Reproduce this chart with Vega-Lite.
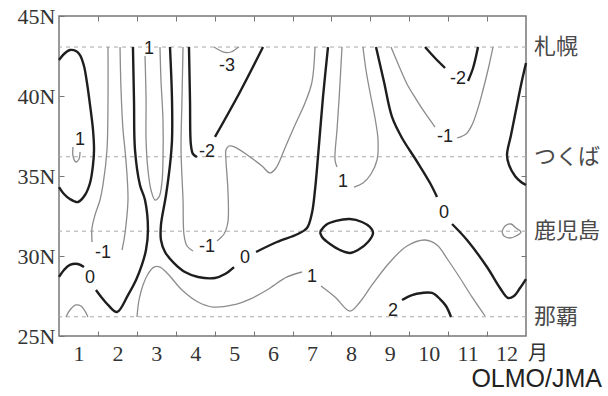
{
  "$schema": "https://vega.github.io/schema/vega-lite/v6.json",
  "width": 467,
  "height": 320,
  "autosize": {"type": "none"},
  "padding": {"left": 59, "top": 16, "right": 82, "bottom": 60},
  "background": "white",
  "config": {
    "view": {"stroke": "#777", "strokeWidth": 1.5},
    "axis": {"grid": false, "domain": false, "tickColor": "#777", "tickWidth": 1, "labelColor": "#333", "labelFont": "Liberation Serif", "labelFontSize": 22, "title": null}
  },
  "datasets": {
    "stations": [
      {"name": "札幌", "lat": 43.06},
      {"name": "つくば", "lat": 36.2},
      {"name": "鹿児島", "lat": 31.55},
      {"name": "那覇", "lat": 26.2}
    ],
    "labels": [
      {"label": "1", "month": 1.04, "lat": 37.25},
      {"label": "-1", "month": 1.63, "lat": 30.19},
      {"label": "0", "month": 1.297, "lat": 28.625},
      {"label": "1", "month": 2.81, "lat": 42.94},
      {"label": "0", "month": 5.28, "lat": 29.875},
      {"label": "-1", "month": 4.3, "lat": 30.56},
      {"label": "-2", "month": 4.3, "lat": 36.5},
      {"label": "-3", "month": 4.817, "lat": 41.875},
      {"label": "1", "month": 7.797, "lat": 34.625},
      {"label": "0", "month": 10.39, "lat": 32.69},
      {"label": "-1", "month": 10.42, "lat": 37.44},
      {"label": "-2", "month": 10.753, "lat": 41.06},
      {"label": "1", "month": 7.0, "lat": 28.69},
      {"label": "2", "month": 9.083, "lat": 26.56}
    ],
    "contours": [
      {"seg": "a", "level": 0, "i": 0, "month": 0.5, "lat": 42.25},
      {"seg": "a", "level": 0, "i": 1, "month": 0.628, "lat": 42.625},
      {"seg": "a", "level": 0, "i": 2, "month": 0.78, "lat": 42.875},
      {"seg": "a", "level": 0, "i": 3, "month": 0.937, "lat": 42.81},
      {"seg": "a", "level": 0, "i": 4, "month": 1.04, "lat": 42.56},
      {"seg": "a", "level": 0, "i": 5, "month": 1.142, "lat": 41.875},
      {"seg": "a", "level": 0, "i": 6, "month": 1.22, "lat": 40.81},
      {"seg": "a", "level": 0, "i": 7, "month": 1.297, "lat": 39.44},
      {"seg": "a", "level": 0, "i": 8, "month": 1.374, "lat": 37.875},
      {"seg": "a", "level": 0, "i": 9, "month": 1.4, "lat": 36.625},
      {"seg": "a", "level": 0, "i": 10, "month": 1.374, "lat": 35.69},
      {"seg": "a", "level": 0, "i": 11, "month": 1.297, "lat": 34.56},
      {"seg": "a", "level": 0, "i": 12, "month": 1.168, "lat": 33.81},
      {"seg": "a", "level": 0, "i": 13, "month": 0.988, "lat": 33.375},
      {"seg": "a", "level": 0, "i": 14, "month": 0.78, "lat": 33.56},
      {"seg": "a", "level": 0, "i": 15, "month": 0.628, "lat": 33.875},
      {"seg": "a", "level": 0, "i": 16, "month": 0.5, "lat": 34.31},

      {"seg": "b", "level": 1, "i": 0, "month": 0.86, "lat": 36.81},
      {"seg": "b", "level": 1, "i": 1, "month": 0.86, "lat": 36.25},
      {"seg": "b", "level": 1, "i": 2, "month": 0.937, "lat": 35.875},
      {"seg": "b", "level": 1, "i": 3, "month": 1.014, "lat": 36.06},
      {"seg": "b", "level": 1, "i": 4, "month": 1.04, "lat": 36.5},

      {"seg": "c1", "level": -1, "i": 0, "month": 1.759, "lat": 43.06},
      {"seg": "c1", "level": -1, "i": 1, "month": 1.759, "lat": 39.75},
      {"seg": "c1", "level": -1, "i": 2, "month": 1.733, "lat": 36.625},
      {"seg": "c1", "level": -1, "i": 3, "month": 1.63, "lat": 34.44},
      {"seg": "c1", "level": -1, "i": 4, "month": 1.554, "lat": 33.5},
      {"seg": "c1", "level": -1, "i": 5, "month": 1.425, "lat": 32.56},
      {"seg": "c1", "level": -1, "i": 6, "month": 1.348, "lat": 31.75},
      {"seg": "c1", "level": -1, "i": 7, "month": 1.348, "lat": 30.875},

      {"seg": "c2", "level": -1, "i": 0, "month": 2.068, "lat": 43.06},
      {"seg": "c2", "level": -1, "i": 1, "month": 2.094, "lat": 40.375},
      {"seg": "c2", "level": -1, "i": 2, "month": 2.145, "lat": 37.875},
      {"seg": "c2", "level": -1, "i": 3, "month": 2.196, "lat": 36.625},
      {"seg": "c2", "level": -1, "i": 4, "month": 2.248, "lat": 35.06},
      {"seg": "c2", "level": -1, "i": 5, "month": 2.273, "lat": 33.5},
      {"seg": "c2", "level": -1, "i": 6, "month": 2.222, "lat": 31.94},
      {"seg": "c2", "level": -1, "i": 7, "month": 2.17, "lat": 31.0},
      {"seg": "c2", "level": -1, "i": 8, "month": 2.12, "lat": 30.375},

      {"seg": "d1", "level": 0, "i": 0, "month": 2.4, "lat": 43.06},
      {"seg": "d1", "level": 0, "i": 1, "month": 2.427, "lat": 39.75},
      {"seg": "d1", "level": 0, "i": 2, "month": 2.453, "lat": 36.625},
      {"seg": "d1", "level": 0, "i": 3, "month": 2.58, "lat": 34.44},
      {"seg": "d1", "level": 0, "i": 4, "month": 2.71, "lat": 33.5},
      {"seg": "d1", "level": 0, "i": 5, "month": 2.786, "lat": 31.625},
      {"seg": "d1", "level": 0, "i": 6, "month": 2.735, "lat": 30.375},
      {"seg": "d1", "level": 0, "i": 7, "month": 2.63, "lat": 29.44},
      {"seg": "d1", "level": 0, "i": 8, "month": 2.48, "lat": 28.5},
      {"seg": "d1", "level": 0, "i": 9, "month": 2.273, "lat": 27.56},
      {"seg": "d1", "level": 0, "i": 10, "month": 1.99, "lat": 26.5},
      {"seg": "d1", "level": 0, "i": 11, "month": 1.759, "lat": 26.94},
      {"seg": "d1", "level": 0, "i": 12, "month": 1.605, "lat": 27.375},
      {"seg": "d1", "level": 0, "i": 13, "month": 1.45, "lat": 27.875},

      {"seg": "d2", "level": 0, "i": 0, "month": 1.142, "lat": 29.31},
      {"seg": "d2", "level": 0, "i": 1, "month": 0.988, "lat": 29.5},
      {"seg": "d2", "level": 0, "i": 2, "month": 0.78, "lat": 29.44},
      {"seg": "d2", "level": 0, "i": 3, "month": 0.628, "lat": 29.125},
      {"seg": "d2", "level": 0, "i": 4, "month": 0.5, "lat": 28.69},

      {"seg": "e", "level": 1, "i": 0, "month": 2.71, "lat": 42.5},
      {"seg": "e", "level": 1, "i": 1, "month": 2.737, "lat": 39.75},
      {"seg": "e", "level": 1, "i": 2, "month": 2.737, "lat": 37.25},
      {"seg": "e", "level": 1, "i": 3, "month": 2.786, "lat": 35.375},
      {"seg": "e", "level": 1, "i": 4, "month": 2.864, "lat": 34.125},
      {"seg": "e", "level": 1, "i": 5, "month": 2.967, "lat": 33.5},
      {"seg": "e", "level": 1, "i": 6, "month": 3.07, "lat": 33.69},
      {"seg": "e", "level": 1, "i": 7, "month": 3.146, "lat": 34.625},
      {"seg": "e", "level": 1, "i": 8, "month": 3.172, "lat": 36.0},
      {"seg": "e", "level": 1, "i": 9, "month": 3.172, "lat": 38.5},
      {"seg": "e", "level": 1, "i": 10, "month": 3.12, "lat": 41.0},
      {"seg": "e", "level": 1, "i": 11, "month": 3.095, "lat": 43.06},

      {"seg": "f1", "level": 0, "i": 0, "month": 3.352, "lat": 43.06},
      {"seg": "f1", "level": 0, "i": 1, "month": 3.404, "lat": 39.75},
      {"seg": "f1", "level": 0, "i": 2, "month": 3.404, "lat": 37.25},
      {"seg": "f1", "level": 0, "i": 3, "month": 3.352, "lat": 35.69},
      {"seg": "f1", "level": 0, "i": 4, "month": 3.25, "lat": 33.81},
      {"seg": "f1", "level": 0, "i": 5, "month": 3.12, "lat": 31.94},
      {"seg": "f1", "level": 0, "i": 6, "month": 3.12, "lat": 31.0},
      {"seg": "f1", "level": 0, "i": 7, "month": 3.224, "lat": 30.25},
      {"seg": "f1", "level": 0, "i": 8, "month": 3.455, "lat": 29.56},
      {"seg": "f1", "level": 0, "i": 9, "month": 3.737, "lat": 29.0},
      {"seg": "f1", "level": 0, "i": 10, "month": 4.073, "lat": 28.69},
      {"seg": "f1", "level": 0, "i": 11, "month": 4.508, "lat": 28.625},
      {"seg": "f1", "level": 0, "i": 12, "month": 4.765, "lat": 28.875},
      {"seg": "f1", "level": 0, "i": 13, "month": 4.997, "lat": 29.31},

      {"seg": "f2", "level": 0, "i": 0, "month": 5.563, "lat": 30.25},
      {"seg": "f2", "level": 0, "i": 1, "month": 6.1, "lat": 30.875},
      {"seg": "f2", "level": 0, "i": 2, "month": 6.64, "lat": 31.375},
      {"seg": "f2", "level": 0, "i": 3, "month": 6.873, "lat": 31.75},
      {"seg": "f2", "level": 0, "i": 4, "month": 7.0, "lat": 32.69},
      {"seg": "f2", "level": 0, "i": 5, "month": 7.078, "lat": 34.125},
      {"seg": "f2", "level": 0, "i": 6, "month": 7.155, "lat": 36.19},
      {"seg": "f2", "level": 0, "i": 7, "month": 7.284, "lat": 39.94},
      {"seg": "f2", "level": 0, "i": 8, "month": 7.412, "lat": 43.06},

      {"seg": "g1", "level": -1, "i": 0, "month": 3.687, "lat": 43.06},
      {"seg": "g1", "level": -1, "i": 1, "month": 3.66, "lat": 39.75},
      {"seg": "g1", "level": -1, "i": 2, "month": 3.636, "lat": 36.625},
      {"seg": "g1", "level": -1, "i": 3, "month": 3.687, "lat": 33.5},
      {"seg": "g1", "level": -1, "i": 4, "month": 3.713, "lat": 31.31},
      {"seg": "g1", "level": -1, "i": 5, "month": 3.79, "lat": 30.625},
      {"seg": "g1", "level": -1, "i": 6, "month": 3.944, "lat": 30.31},

      {"seg": "g2", "level": -1, "i": 0, "month": 4.56, "lat": 30.94},
      {"seg": "g2", "level": -1, "i": 1, "month": 4.74, "lat": 31.375},
      {"seg": "g2", "level": -1, "i": 2, "month": 4.84, "lat": 32.125},
      {"seg": "g2", "level": -1, "i": 3, "month": 4.84, "lat": 34.125},
      {"seg": "g2", "level": -1, "i": 4, "month": 4.79, "lat": 36.0},
      {"seg": "g2", "level": -1, "i": 5, "month": 4.79, "lat": 36.625},
      {"seg": "g2", "level": -1, "i": 6, "month": 4.868, "lat": 36.875},
      {"seg": "g2", "level": -1, "i": 7, "month": 5.02, "lat": 36.81},
      {"seg": "g2", "level": -1, "i": 8, "month": 5.408, "lat": 36.19},
      {"seg": "g2", "level": -1, "i": 9, "month": 5.717, "lat": 35.625},
      {"seg": "g2", "level": -1, "i": 10, "month": 5.92, "lat": 35.19},
      {"seg": "g2", "level": -1, "i": 11, "month": 6.076, "lat": 35.5},
      {"seg": "g2", "level": -1, "i": 12, "month": 6.307, "lat": 36.75},
      {"seg": "g2", "level": -1, "i": 13, "month": 6.564, "lat": 38.19},
      {"seg": "g2", "level": -1, "i": 14, "month": 6.821, "lat": 39.56},
      {"seg": "g2", "level": -1, "i": 15, "month": 7.0, "lat": 40.875},
      {"seg": "g2", "level": -1, "i": 16, "month": 7.078, "lat": 43.06},

      {"seg": "h1", "level": -2, "i": 0, "month": 3.84, "lat": 43.06},
      {"seg": "h1", "level": -2, "i": 1, "month": 3.866, "lat": 39.75},
      {"seg": "h1", "level": -2, "i": 2, "month": 3.89, "lat": 36.94},
      {"seg": "h1", "level": -2, "i": 3, "month": 3.944, "lat": 36.375},
      {"seg": "h1", "level": -2, "i": 4, "month": 4.046, "lat": 36.19},

      {"seg": "h2", "level": -2, "i": 0, "month": 4.508, "lat": 37.44},
      {"seg": "h2", "level": -2, "i": 1, "month": 5.15, "lat": 40.25},
      {"seg": "h2", "level": -2, "i": 2, "month": 5.742, "lat": 43.06},

      {"seg": "i", "level": -3, "i": 0, "month": 4.483, "lat": 43.06},
      {"seg": "i", "level": -3, "i": 1, "month": 4.612, "lat": 42.875},
      {"seg": "i", "level": -3, "i": 2, "month": 4.765, "lat": 42.72},
      {"seg": "i", "level": -3, "i": 3, "month": 4.92, "lat": 42.75},
      {"seg": "i", "level": -3, "i": 4, "month": 5.048, "lat": 42.94},
      {"seg": "i", "level": -3, "i": 5, "month": 5.125, "lat": 43.06},

      {"seg": "j1", "level": 1, "i": 0, "month": 7.772, "lat": 43.06},
      {"seg": "j1", "level": 1, "i": 1, "month": 7.695, "lat": 39.75},
      {"seg": "j1", "level": 1, "i": 2, "month": 7.643, "lat": 37.875},
      {"seg": "j1", "level": 1, "i": 3, "month": 7.592, "lat": 36.0},
      {"seg": "j1", "level": 1, "i": 4, "month": 7.643, "lat": 35.56},

      {"seg": "j2", "level": 1, "i": 0, "month": 8.08, "lat": 34.31},
      {"seg": "j2", "level": 1, "i": 1, "month": 8.311, "lat": 34.56},
      {"seg": "j2", "level": 1, "i": 2, "month": 8.517, "lat": 35.125},
      {"seg": "j2", "level": 1, "i": 3, "month": 8.672, "lat": 36.0},
      {"seg": "j2", "level": 1, "i": 4, "month": 8.698, "lat": 37.25},
      {"seg": "j2", "level": 1, "i": 5, "month": 8.62, "lat": 38.625},
      {"seg": "j2", "level": 1, "i": 6, "month": 8.49, "lat": 40.25},
      {"seg": "j2", "level": 1, "i": 7, "month": 8.388, "lat": 41.625},
      {"seg": "j2", "level": 1, "i": 8, "month": 8.311, "lat": 43.06},

      {"seg": "k1", "level": 0, "i": 0, "month": 8.646, "lat": 43.06},
      {"seg": "k1", "level": 0, "i": 1, "month": 8.852, "lat": 40.875},
      {"seg": "k1", "level": 0, "i": 2, "month": 9.057, "lat": 38.69},
      {"seg": "k1", "level": 0, "i": 3, "month": 9.314, "lat": 37.375},
      {"seg": "k1", "level": 0, "i": 4, "month": 9.674, "lat": 36.0},
      {"seg": "k1", "level": 0, "i": 5, "month": 10.034, "lat": 34.56},
      {"seg": "k1", "level": 0, "i": 6, "month": 10.213, "lat": 33.69},

      {"seg": "k2", "level": 0, "i": 0, "month": 10.6, "lat": 32.0},
      {"seg": "k2", "level": 0, "i": 1, "month": 10.984, "lat": 31.0},
      {"seg": "k2", "level": 0, "i": 2, "month": 11.498, "lat": 29.31},
      {"seg": "k2", "level": 0, "i": 3, "month": 11.832, "lat": 28.0},
      {"seg": "k2", "level": 0, "i": 4, "month": 12.038, "lat": 27.375},
      {"seg": "k2", "level": 0, "i": 5, "month": 12.192, "lat": 27.5},
      {"seg": "k2", "level": 0, "i": 6, "month": 12.346, "lat": 28.0},
      {"seg": "k2", "level": 0, "i": 7, "month": 12.5, "lat": 28.56},

      {"seg": "l1", "level": -1, "i": 0, "month": 9.031, "lat": 43.06},
      {"seg": "l1", "level": -1, "i": 1, "month": 9.236, "lat": 41.875},
      {"seg": "l1", "level": -1, "i": 2, "month": 9.442, "lat": 40.75},
      {"seg": "l1", "level": -1, "i": 3, "month": 9.674, "lat": 39.81},
      {"seg": "l1", "level": -1, "i": 4, "month": 9.905, "lat": 38.94},
      {"seg": "l1", "level": -1, "i": 5, "month": 10.162, "lat": 38.06},

      {"seg": "l2", "level": -1, "i": 0, "month": 10.727, "lat": 37.375},
      {"seg": "l2", "level": -1, "i": 1, "month": 10.958, "lat": 37.625},
      {"seg": "l2", "level": -1, "i": 2, "month": 11.112, "lat": 38.19},
      {"seg": "l2", "level": -1, "i": 3, "month": 11.267, "lat": 39.25},
      {"seg": "l2", "level": -1, "i": 4, "month": 11.395, "lat": 40.375},
      {"seg": "l2", "level": -1, "i": 5, "month": 11.523, "lat": 41.625},
      {"seg": "l2", "level": -1, "i": 6, "month": 11.652, "lat": 43.06},

      {"seg": "m1", "level": -2, "i": 0, "month": 9.905, "lat": 43.06},
      {"seg": "m1", "level": -2, "i": 1, "month": 10.162, "lat": 42.375},
      {"seg": "m1", "level": -2, "i": 2, "month": 10.42, "lat": 41.75},

      {"seg": "m2", "level": -2, "i": 0, "month": 11.01, "lat": 40.94},
      {"seg": "m2", "level": -2, "i": 1, "month": 11.14, "lat": 41.75},
      {"seg": "m2", "level": -2, "i": 2, "month": 11.267, "lat": 43.06},

      {"seg": "n", "level": 0, "i": 0, "month": 12.5, "lat": 42.06},
      {"seg": "n", "level": 0, "i": 1, "month": 12.372, "lat": 40.69},
      {"seg": "n", "level": 0, "i": 2, "month": 12.243, "lat": 39.125},
      {"seg": "n", "level": 0, "i": 3, "month": 12.115, "lat": 37.56},
      {"seg": "n", "level": 0, "i": 4, "month": 12.012, "lat": 36.31},
      {"seg": "n", "level": 0, "i": 5, "month": 12.063, "lat": 35.69},
      {"seg": "n", "level": 0, "i": 6, "month": 12.217, "lat": 35.0},
      {"seg": "n", "level": 0, "i": 7, "month": 12.372, "lat": 34.625},
      {"seg": "n", "level": 0, "i": 8, "month": 12.5, "lat": 34.44},

      {"seg": "o", "level": 0, "i": 0, "month": 7.206, "lat": 31.5},
      {"seg": "o", "level": 0, "i": 1, "month": 7.36, "lat": 31.94},
      {"seg": "o", "level": 0, "i": 2, "month": 7.618, "lat": 32.19},
      {"seg": "o", "level": 0, "i": 3, "month": 7.977, "lat": 32.31},
      {"seg": "o", "level": 0, "i": 4, "month": 8.286, "lat": 32.125},
      {"seg": "o", "level": 0, "i": 5, "month": 8.49, "lat": 31.81},
      {"seg": "o", "level": 0, "i": 6, "month": 8.569, "lat": 31.44},
      {"seg": "o", "level": 0, "i": 7, "month": 8.44, "lat": 30.875},
      {"seg": "o", "level": 0, "i": 8, "month": 8.183, "lat": 30.375},
      {"seg": "o", "level": 0, "i": 9, "month": 7.977, "lat": 30.19},
      {"seg": "o", "level": 0, "i": 10, "month": 7.72, "lat": 30.375},
      {"seg": "o", "level": 0, "i": 11, "month": 7.464, "lat": 30.75},
      {"seg": "o", "level": 0, "i": 12, "month": 7.258, "lat": 31.19},
      {"seg": "o", "level": 0, "i": 13, "month": 7.206, "lat": 31.5},

      {"seg": "p1", "level": 1, "i": 0, "month": 2.504, "lat": 26.19},
      {"seg": "p1", "level": 1, "i": 1, "month": 2.556, "lat": 27.25},
      {"seg": "p1", "level": 1, "i": 2, "month": 2.659, "lat": 28.19},
      {"seg": "p1", "level": 1, "i": 3, "month": 2.786, "lat": 28.875},
      {"seg": "p1", "level": 1, "i": 4, "month": 2.94, "lat": 29.31},
      {"seg": "p1", "level": 1, "i": 5, "month": 3.095, "lat": 29.31},
      {"seg": "p1", "level": 1, "i": 6, "month": 3.3, "lat": 28.875},
      {"seg": "p1", "level": 1, "i": 7, "month": 3.66, "lat": 27.875},
      {"seg": "p1", "level": 1, "i": 8, "month": 4.073, "lat": 27.125},
      {"seg": "p1", "level": 1, "i": 9, "month": 4.457, "lat": 26.81},
      {"seg": "p1", "level": 1, "i": 10, "month": 4.97, "lat": 26.94},
      {"seg": "p1", "level": 1, "i": 11, "month": 5.408, "lat": 27.31},
      {"seg": "p1", "level": 1, "i": 12, "month": 5.845, "lat": 27.875},
      {"seg": "p1", "level": 1, "i": 13, "month": 6.36, "lat": 28.69},
      {"seg": "p1", "level": 1, "i": 14, "month": 6.745, "lat": 29.0},

      {"seg": "p2", "level": 1, "i": 0, "month": 7.232, "lat": 28.125},
      {"seg": "p2", "level": 1, "i": 1, "month": 7.592, "lat": 27.44},
      {"seg": "p2", "level": 1, "i": 2, "month": 7.977, "lat": 26.56},
      {"seg": "p2", "level": 1, "i": 3, "month": 8.234, "lat": 27.125},
      {"seg": "p2", "level": 1, "i": 4, "month": 8.544, "lat": 28.19},
      {"seg": "p2", "level": 1, "i": 5, "month": 9.005, "lat": 29.625},
      {"seg": "p2", "level": 1, "i": 6, "month": 9.442, "lat": 30.625},
      {"seg": "p2", "level": 1, "i": 7, "month": 9.905, "lat": 31.0},
      {"seg": "p2", "level": 1, "i": 8, "month": 10.213, "lat": 30.69},
      {"seg": "p2", "level": 1, "i": 9, "month": 10.496, "lat": 29.75},
      {"seg": "p2", "level": 1, "i": 10, "month": 10.804, "lat": 28.625},
      {"seg": "p2", "level": 1, "i": 11, "month": 11.112, "lat": 27.44},
      {"seg": "p2", "level": 1, "i": 12, "month": 11.447, "lat": 26.25},

      {"seg": "q", "level": 2, "i": 0, "month": 9.314, "lat": 27.25},
      {"seg": "q", "level": 2, "i": 1, "month": 9.571, "lat": 27.56},
      {"seg": "q", "level": 2, "i": 2, "month": 9.828, "lat": 27.69},
      {"seg": "q", "level": 2, "i": 3, "month": 10.085, "lat": 27.69},
      {"seg": "q", "level": 2, "i": 4, "month": 10.29, "lat": 27.31},
      {"seg": "q", "level": 2, "i": 5, "month": 10.445, "lat": 26.875},
      {"seg": "q", "level": 2, "i": 6, "month": 10.573, "lat": 26.19},

      {"seg": "r", "level": 1, "i": 0, "month": 0.68, "lat": 26.19},
      {"seg": "r", "level": 1, "i": 1, "month": 0.78, "lat": 26.625},
      {"seg": "r", "level": 1, "i": 2, "month": 0.937, "lat": 26.94},
      {"seg": "r", "level": 1, "i": 3, "month": 1.065, "lat": 26.875},
      {"seg": "r", "level": 1, "i": 4, "month": 1.168, "lat": 26.56},
      {"seg": "r", "level": 1, "i": 5, "month": 1.245, "lat": 26.19},

      {"seg": "s", "level": -1, "i": 0, "month": 11.883, "lat": 31.5},
      {"seg": "s", "level": -1, "i": 1, "month": 11.96, "lat": 31.875},
      {"seg": "s", "level": -1, "i": 2, "month": 12.115, "lat": 32.0},
      {"seg": "s", "level": -1, "i": 3, "month": 12.243, "lat": 31.75},
      {"seg": "s", "level": -1, "i": 4, "month": 12.372, "lat": 31.5},
      {"seg": "s", "level": -1, "i": 5, "month": 12.243, "lat": 31.25},
      {"seg": "s", "level": -1, "i": 6, "month": 12.089, "lat": 31.125},
      {"seg": "s", "level": -1, "i": 7, "month": 11.935, "lat": 31.25},
      {"seg": "s", "level": -1, "i": 8, "month": 11.883, "lat": 31.5}
    ]
  },
  "layer": [
    {
      "data": {"name": "stations"},
      "mark": {"type": "rule", "color": "#aaa", "strokeWidth": 1, "strokeDash": [4, 4]},
      "encoding": {
        "y": {"field": "lat", "type": "quantitative", "scale": {"domain": [25, 45], "nice": false, "zero": false}, "axis": null}
      }
    },
    {
      "data": {"name": "contours"},
      "transform": [{"filter": "datum.level % 2 != 0"}],
      "mark": {"type": "line", "interpolate": "catmull-rom", "color": "#8c8c8c", "strokeWidth": 1.3},
      "encoding": {
        "x": {"field": "month", "type": "quantitative", "scale": {"domain": [0.5, 12.5], "nice": false, "zero": false},
              "axis": {"orient": "bottom", "values": [1, 2, 3, 4, 5, 6, 7, 8, 9, 10, 11, 12], "ticks": false, "labelPadding": 7, "labelFlush": false}},
        "y": {"field": "lat", "type": "quantitative", "scale": {"domain": [25, 45], "nice": false, "zero": false},
              "axis": {"orient": "left", "values": [25, 30, 35, 40, 45], "labelExpr": "datum.value + 'N'", "tickSize": -5, "labelPadding": 9, "labelFlush": false}},
        "detail": {"field": "seg"},
        "order": {"field": "i"}
      }
    },
    {
      "data": {"name": "contours"},
      "transform": [{"filter": "datum.level % 2 == 0"}],
      "mark": {"type": "line", "interpolate": "catmull-rom", "color": "#1e1e1e", "strokeWidth": 2.4},
      "encoding": {
        "x": {"field": "month", "type": "quantitative", "scale": {"domain": [0.5, 12.5], "nice": false, "zero": false},
              "axis": {"orient": "top", "values": [1.5, 2.5, 3.5, 4.5, 5.5, 6.5, 7.5, 8.5, 9.5, 10.5, 11.5], "labels": false, "tickSize": -5}},
        "y": {"field": "lat", "type": "quantitative", "scale": {"domain": [25, 45], "nice": false, "zero": false},
              "axis": {"orient": "right", "values": [30, 35, 40], "labels": false, "tickSize": -5}},
        "detail": {"field": "seg"},
        "order": {"field": "i"}
      }
    },
    {
      "data": {"name": "labels"},
      "mark": {"type": "text", "font": "Liberation Sans", "fontSize": 18, "color": "#222", "baseline": "middle", "align": "center"},
      "encoding": {
        "x": {"field": "month", "type": "quantitative", "scale": {"domain": [0.5, 12.5], "nice": false, "zero": false},
              "axis": {"orient": "bottom", "values": [1.5, 2.5, 3.5, 4.5, 5.5, 6.5, 7.5, 8.5, 9.5, 10.5, 11.5], "labels": false, "tickSize": -5}},
        "y": {"field": "lat", "type": "quantitative", "scale": {"domain": [25, 45], "nice": false, "zero": false}, "axis": null},
        "text": {"field": "label"}
      }
    },
    {
      "data": {"name": "stations"},
      "mark": {"type": "text", "font": "Noto Sans CJK JP", "fontSize": 22, "color": "#4a4a4a", "align": "left", "baseline": "middle", "dx": 8},
      "encoding": {
        "x": {"datum": 12.5, "type": "quantitative", "scale": {"domain": [0.5, 12.5], "nice": false, "zero": false}, "axis": null},
        "y": {"field": "lat", "type": "quantitative", "scale": {"domain": [25, 45], "nice": false, "zero": false}, "axis": null},
        "text": {"field": "name"}
      }
    },
    {
      "data": {"values": [{"unit": "月"}]},
      "mark": {"type": "text", "font": "Noto Sans CJK JP", "fontSize": 20, "color": "#333", "align": "center", "baseline": "middle", "dx": 12, "dy": 18},
      "encoding": {
        "x": {"datum": 12.5, "type": "quantitative", "scale": {"domain": [0.5, 12.5], "nice": false, "zero": false}, "axis": null},
        "y": {"datum": 25, "type": "quantitative", "scale": {"domain": [25, 45], "nice": false, "zero": false}, "axis": null},
        "text": {"field": "unit"}
      }
    },
    {
      "data": {"values": [{"source": "OLMO/JMA"}]},
      "mark": {"type": "text", "font": "Liberation Sans", "fontSize": 25, "color": "#222", "align": "right", "baseline": "middle", "dx": 76, "dy": 43},
      "encoding": {
        "x": {"datum": 12.5, "type": "quantitative", "scale": {"domain": [0.5, 12.5], "nice": false, "zero": false}, "axis": null},
        "y": {"datum": 25, "type": "quantitative", "scale": {"domain": [25, 45], "nice": false, "zero": false}, "axis": null},
        "text": {"field": "source"}
      }
    }
  ],
  "resolve": {"axis": {"x": "independent", "y": "independent"}}
}
